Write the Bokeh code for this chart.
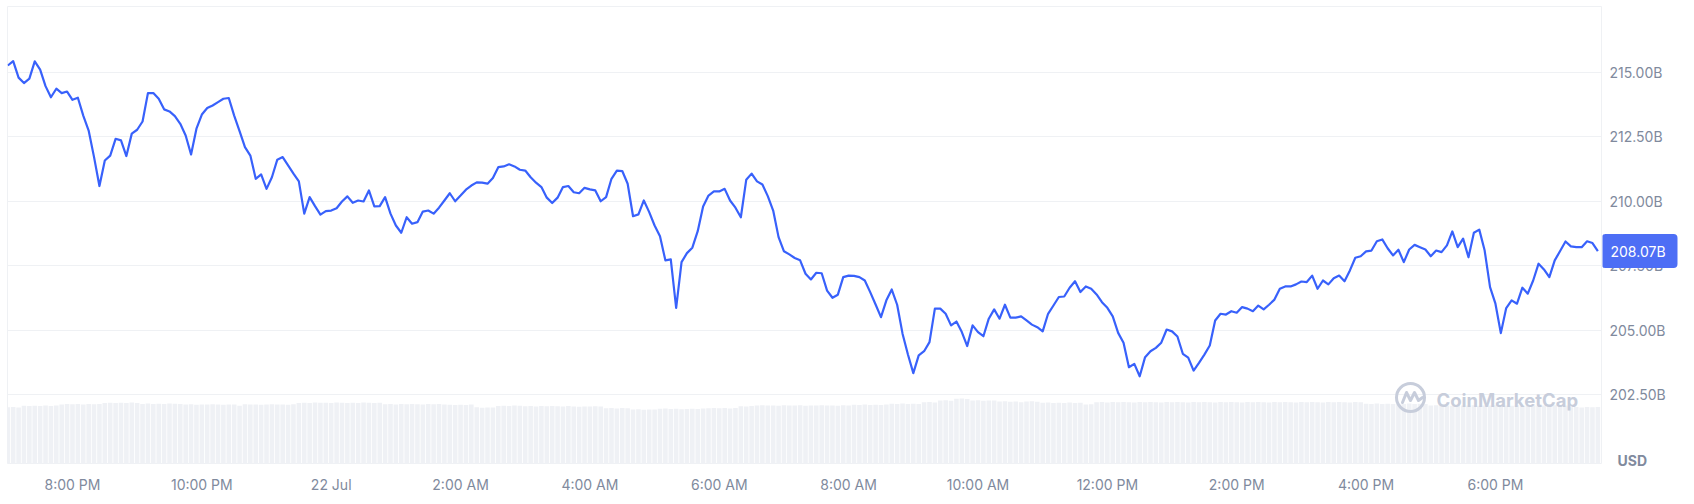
import pandas as pd
from bokeh.plotting import figure
from bokeh.layouts import row
from bokeh.models import Range1d, FixedTicker, Label, Grid, Quad
from bokeh.core.properties import value
from bokeh.embed import file_html
from bokeh.resources import INLINE

# ---------------- data ----------------
start_time = "2024-07-21 19:00"
step = "5min"

price = [
    215.26, 215.43, 214.79, 214.58, 214.75, 215.42, 215.10, 214.46, 214.03, 214.36,
    214.19, 214.25, 213.93, 214.01, 213.32, 212.74, 211.71, 210.59, 211.58, 211.77,
    212.42, 212.36, 211.75, 212.62, 212.77, 213.09, 214.19, 214.19, 213.97, 213.56,
    213.48, 213.30, 213.00, 212.55, 211.81, 212.81, 213.36, 213.61, 213.71, 213.84,
    213.97, 214.00, 213.32, 212.72, 212.10, 211.77, 210.87, 211.04, 210.48, 210.93,
    211.61, 211.71, 211.39, 211.07, 210.77, 209.52, 210.16, 209.81, 209.48, 209.62,
    209.64, 209.73, 209.99, 210.19, 209.94, 210.03, 209.99, 210.42, 209.80, 209.81,
    210.16, 209.52, 209.06, 208.78, 209.38, 209.13, 209.19,
    209.60, 209.64, 209.52, 209.75, 210.03, 210.31, 210.00, 210.22, 210.45, 210.61,
    210.73, 210.72, 210.68, 210.90, 211.32, 211.35, 211.43, 211.35, 211.22, 211.19,
    210.93, 210.72, 210.55, 210.14, 209.93, 210.14, 210.55, 210.59, 210.35, 210.31,
    210.52, 210.46, 210.42, 210.00, 210.16, 210.87, 211.19, 211.17, 210.68, 209.42,
    209.49, 210.03, 209.58, 209.06, 208.64, 207.71, 207.75, 205.87, 207.64, 207.99,
    208.20, 208.84, 209.80, 210.22, 210.38, 210.38, 210.48, 210.03, 209.75, 209.38,
    210.83, 211.07, 210.77, 210.65, 210.20, 209.64, 208.61, 208.06, 207.94, 207.80,
    207.71,
    207.19, 206.97, 207.23, 207.21, 206.54, 206.26, 206.38, 207.06, 207.12, 207.11,
    207.06, 206.93, 206.48, 206.00, 205.51, 206.16, 206.58, 205.99, 204.87, 204.06,
    203.34, 204.03, 204.19, 204.54, 205.84, 205.84, 205.64, 205.19, 205.34, 204.93,
    204.39, 205.19, 204.93, 204.77, 205.45, 205.81, 205.45, 205.99, 205.49, 205.49,
    205.54, 205.38, 205.22, 205.12, 204.96, 205.64, 205.96, 206.29, 206.31, 206.65,
    206.90, 206.48, 206.70, 206.61, 206.39, 206.09, 205.87, 205.54, 204.90, 204.52,
    203.57, 203.70, 203.22, 203.96, 204.19, 204.32, 204.52, 205.03, 204.96, 204.76,
    204.09, 203.94, 203.44, 203.74, 204.06, 204.41, 205.38, 205.64,
    205.61, 205.74, 205.68, 205.90, 205.84, 205.74, 205.96, 205.81, 205.99, 206.19,
    206.61, 206.70, 206.70, 206.78, 206.89, 206.87, 207.12, 206.61, 206.93, 206.78,
    207.02, 207.12, 206.90, 207.32, 207.81, 207.87, 208.06, 208.09, 208.45, 208.52,
    208.18, 207.90, 208.12, 207.64, 208.13, 208.31, 208.22, 208.13, 207.87, 208.09,
    208.03, 208.29, 208.83, 208.22, 208.55, 207.83, 208.78, 208.90, 208.09, 206.67,
    206.03, 204.89, 205.86, 206.16, 206.03, 206.65, 206.42, 206.93, 207.58, 207.36,
    207.06, 207.71, 208.07, 208.44, 208.25, 208.22, 208.22, 208.45, 208.38, 208.07,
]

volume = [
    5.62, 5.64, 5.60, 5.78, 5.75, 5.78, 5.76, 5.79, 5.74, 5.80,
    5.90, 5.94, 5.92, 5.95, 5.91, 5.96, 5.93, 5.95, 6.06, 6.08,
    6.05, 6.08, 6.06, 6.09, 6.04, 5.95, 5.99, 5.96, 5.98, 5.94,
    5.99, 5.97, 5.96, 5.90, 5.92, 5.88, 5.91, 5.89, 5.93, 5.90,
    5.87, 5.91, 5.90, 5.78, 5.92, 5.89, 5.91, 5.88, 5.90, 5.93,
    5.89, 5.91, 5.88, 5.92, 6.06, 6.08, 6.05, 6.09, 6.07, 6.08,
    6.06, 6.09, 6.07, 6.05, 6.08, 6.06, 6.09, 6.07, 6.05, 6.08,
    5.93, 5.95, 5.91, 5.94, 5.92, 5.95, 5.93, 5.90, 5.94, 5.92,
    5.95, 5.91, 5.87, 5.85, 5.88, 5.86, 5.89, 5.62, 5.58, 5.61,
    5.59, 5.76, 5.78, 5.75, 5.79, 5.77, 5.73, 5.75, 5.71, 5.74,
    5.72, 5.75, 5.73, 5.70, 5.74, 5.70, 5.68, 5.71, 5.69, 5.72,
    5.70, 5.53, 5.55, 5.51, 5.54, 5.52, 5.40, 5.42, 5.38, 5.41,
    5.39, 5.47, 5.49, 5.45, 5.48, 5.42, 5.46, 5.48, 5.45, 5.49,
    5.53, 5.55, 5.52, 5.54, 5.51, 5.55, 5.73, 5.71, 5.74, 5.80,
    5.82, 5.79, 5.81, 5.78, 5.82, 5.80, 5.79, 5.83, 5.78, 5.81,
    5.80, 5.82, 5.79, 5.81, 5.78, 5.82, 5.80, 5.87, 5.85, 5.89,
    5.86, 5.88, 5.85, 5.89, 5.97, 5.95, 5.99, 5.96, 5.98, 5.95,
    6.13, 6.15, 6.11, 6.30, 6.32, 6.28, 6.47, 6.49, 6.45, 6.30,
    6.32, 6.28, 6.31, 6.29, 6.20, 6.22, 6.18, 6.21, 6.13, 6.19,
    6.22, 6.18, 6.07, 6.09, 6.05, 6.08, 6.06, 6.09, 6.05, 6.07,
    5.90, 5.92, 6.13, 6.15, 6.11, 6.14, 6.12, 6.16, 6.13, 6.11,
    6.14, 6.12, 6.15, 6.13, 6.11, 6.14, 6.12, 6.15, 6.13, 6.11,
    6.14, 6.12, 6.15, 6.13, 6.11, 6.14, 6.12, 6.15, 6.13, 6.11,
    6.14, 6.12, 6.15, 6.13, 6.11, 6.14, 6.12, 6.15, 6.13, 6.11,
    6.14, 6.12, 6.15, 6.13, 6.11, 6.14, 6.12, 6.15, 6.13, 6.11,
    6.14, 6.12, 5.97, 5.95, 5.99, 5.96, 5.98, 5.94, 5.97, 5.95,
    5.99, 5.96, 5.98, 5.95, 5.80, 5.82, 5.79, 5.81, 5.78, 5.82,
    5.80, 5.79, 5.83, 5.78, 5.81, 5.80, 5.82, 5.79, 5.81, 5.78,
    5.82, 5.80, 5.79, 5.83, 5.78, 5.81, 5.80, 5.82, 5.79, 5.81,
    5.63, 5.65, 5.61, 5.64, 5.62, 5.64,
]

x_tick_times = ["2024-07-21 20:00", "2024-07-21 22:00", "2024-07-22 00:00",
                "2024-07-22 02:00", "2024-07-22 04:00", "2024-07-22 06:00",
                "2024-07-22 08:00", "2024-07-22 10:00", "2024-07-22 12:00",
                "2024-07-22 14:00", "2024-07-22 16:00", "2024-07-22 18:00"]
x_tick_labels = ["8:00 PM", "10:00 PM", "22 Jul", "2:00 AM", "4:00 AM", "6:00 AM",
                 "8:00 AM", "10:00 AM", "12:00 PM", "2:00 PM", "4:00 PM", "6:00 PM"]
y_ticks = [202.5, 205.0, 207.5, 210.0, 212.5, 215.0]
y_tick_labels = ["202.50B", "205.00B", "207.50B", "210.00B", "212.50B", "215.00B"]
last_price = 208.07
last_label = "208.07B"
unit_label = "USD"

# ---------------- styling / geometry ----------------
LINE = "#3861fb"
GREY = "#808a9d"
GRID = "#eff1f4"
VOLC = "#eff1f5"
WM = "#c7cddb"
TAG = "#4d6ef5"

W, H = 1694, 504
FL, FR, FT, FB = 7, 1602, 6, 463          # main frame edges in page pixels
X0 = 7.3                                   # page x of first sample
MS_PER_MIN = 60_000
PX_PER_5MIN = 5.39
PX_PER_VAL = 25.81
VAL_AT_TOP0 = 217.778                      # value at page y = 0
STRIP_DY = 6                               # observed downward offset of the side strip

t0 = pd.Timestamp(start_time)
times = pd.date_range(t0, periods=len(price), freq=step)
t0_ms = t0.value / 1e6

def page_x_to_ms(px):
    return t0_ms + (px - X0) / PX_PER_5MIN * 5 * MS_PER_MIN

def page_y_to_val(py):
    return VAL_AT_TOP0 - py / PX_PER_VAL

# ---------- main chart ----------
p = figure(
    title=None,
    frame_width=FR - FL, frame_height=FB - FT,
    min_border_left=FL, min_border_top=FT,
    min_border_right=0, min_border_bottom=H - FB,
    x_range=Range1d(page_x_to_ms(FL), page_x_to_ms(FR)),
    y_range=Range1d(page_y_to_val(FB), page_y_to_val(FT)),
    x_axis_type="datetime", y_axis_location=None,
    output_backend="svg", toolbar_location=None,
    background_fill_color="white", border_fill_color="white",
)
p.extra_y_ranges = {"vol": Range1d(0, (FB - FT) / 10)}
p.outline_line_color = GRID
p.outline_line_width = 1

for g in p.grid:
    g.visible = False
p.add_layout(Grid(dimension=1, ticker=FixedTicker(ticks=y_ticks),
                  grid_line_color=GRID, grid_line_width=1))

# volume bars
p.vbar(x=times, top=volume, bottom=0, width=0.85 * 5 * MS_PER_MIN,
       y_range_name="vol", fill_color=VOLC, line_color=None)

# price line
p.line(times, price, line_color=LINE, line_width=2.2, line_join="round")

# x axis
xt = [pd.Timestamp(s).value / 1e6 for s in x_tick_times]
ax = p.xaxis[0]
ax.ticker = FixedTicker(ticks=xt)
ax.major_label_overrides = {t: l for t, l in zip(xt, x_tick_labels)}
ax.axis_line_color = None
ax.major_tick_line_color = None
ax.minor_tick_line_color = None
ax.major_label_text_color = GREY
ax.major_label_text_font = "Inter"
ax.major_label_text_font_size = "14px"
ax.major_label_standoff = 6

# watermark
logo_x = page_x_to_ms(1410)
logo_y = page_y_to_val(397)
p.circle(x=[logo_x], y=[logo_y], radius=14, radius_units="screen",
         fill_color=None, line_color=WM, line_width=3)
wave_dx = [-8, -4, 0, 4, 8, 12]
wave_dy = [-5, 5, -3, 5, -3, 0]
p.line([page_x_to_ms(1410 + d) for d in wave_dx],
       [logo_y + d / PX_PER_VAL for d in wave_dy],
       line_color=WM, line_width=3, line_join="round", line_cap="round")
p.add_layout(Label(x=page_x_to_ms(1436), y=page_y_to_val(399),
                   text="CoinMarketCap", text_font="Inter", text_font_size="18.5px",
                   text_font_style="bold", text_color=WM, text_align="left",
                   text_baseline="middle"))

# ---------- right-hand price scale strip ----------
SW = W - FR
s = figure(
    title=None,
    frame_width=SW, frame_height=H,
    min_border_left=0, min_border_right=0, min_border_top=0, min_border_bottom=0,
    x_range=Range1d(0, SW),
    y_range=Range1d(page_y_to_val(H + STRIP_DY), page_y_to_val(STRIP_DY)),
    x_axis_location=None, y_axis_location=None,
    output_backend="svg", toolbar_location=None,
    background_fill_color="white", border_fill_color="white",
)
s.outline_line_color = None
for g in s.grid:
    g.visible = False

s.text(x=[7] * len(y_ticks), y=y_ticks, text=y_tick_labels,
       text_font=value("Inter"), text_font_size=value("14px"),
       text_color=GREY, text_align="left", text_baseline="middle")

half_h = 17 / PX_PER_VAL
qkw = {"border_radius": 4} if "border_radius" in Quad.properties() else {}
s.quad(left=[-1], right=[75], bottom=[last_price - half_h], top=[last_price + half_h],
       fill_color=TAG, line_color=None, **qkw)
s.text(x=[8], y=[last_price], text=[last_label],
       text_font=value("Inter"), text_font_size=value("14px"),
       text_color="white", text_align="left", text_baseline="middle")

s.text(x=[15], y=[page_y_to_val(460)], text=[unit_label],
       text_font=value("Inter"), text_font_size=value("14px"), text_font_style="bold",
       text_color=GREY, text_align="left", text_baseline="middle")

layout = row(p, s, spacing=0)
open("out.html", "w").write(file_html(layout, INLINE))
